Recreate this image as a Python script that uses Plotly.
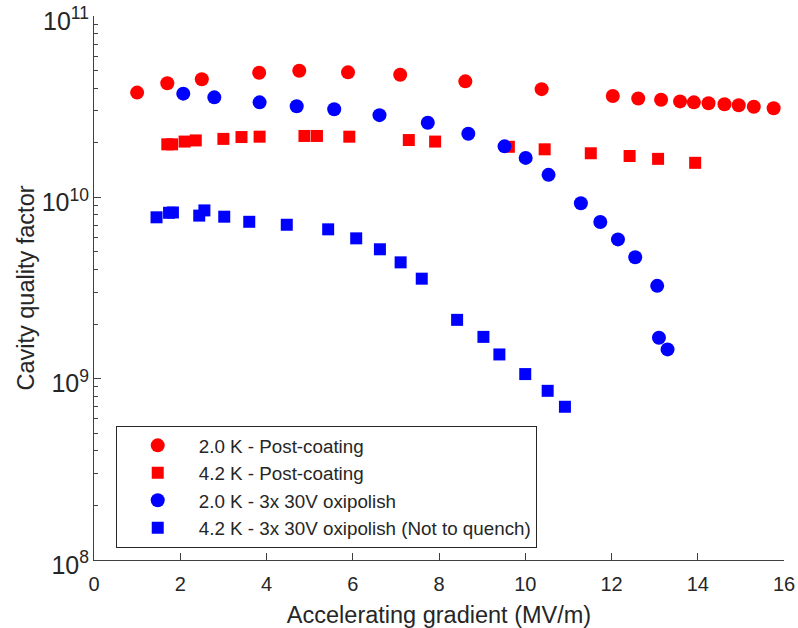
import plotly.graph_objects as go

# 2.0 K - Post-coating
x_20_post = [1.00, 1.70, 2.50, 3.83, 4.76, 5.89, 7.10, 8.61, 10.38, 12.03, 12.62, 13.15,
             13.59, 13.91, 14.25, 14.62, 14.95, 15.30, 15.76]
q_20_post = [3.78e10, 4.26e10, 4.48e10, 4.86e10, 4.99e10, 4.89e10, 4.74e10, 4.36e10, 3.95e10,
             3.62e10, 3.51e10, 3.45e10, 3.38e10, 3.34e10, 3.30e10, 3.26e10, 3.22e10, 3.16e10, 3.10e10]

# 4.2 K - Post-coating
x_42_post = [1.70, 1.81, 2.10, 2.36, 3.00, 3.42, 3.84, 4.88, 5.17, 5.92, 7.30, 7.91,
             9.62, 10.45, 11.52, 12.42, 13.08, 13.94]
q_42_post = [1.96e10, 1.96e10, 2.03e10, 2.06e10, 2.10e10, 2.15e10, 2.16e10, 2.18e10, 2.18e10,
             2.16e10, 2.07e10, 2.03e10, 1.90e10, 1.84e10, 1.75e10, 1.69e10, 1.63e10, 1.55e10]

# 2.0 K - 3x 30V oxipolish
x_20_oxi = [2.07, 2.79, 3.84, 4.70, 5.57, 6.62, 7.74, 8.68, 9.52, 10.01, 10.54, 11.29,
            11.74, 12.15, 12.55, 13.06, 13.10, 13.30]
q_20_oxi = [3.73e10, 3.56e10, 3.34e10, 3.18e10, 3.06e10, 2.84e10, 2.58e10, 2.24e10, 1.91e10,
            1.65e10, 1.33e10, 9.27e9, 7.31e9, 5.86e9, 4.67e9, 3.25e9, 1.68e9, 1.45e9]

# 4.2 K - 3x 30V oxipolish (Not to quench)
x_42_oxi = [1.45, 1.74, 1.83, 2.44, 2.56, 3.02, 3.60, 4.47, 5.43, 6.08, 6.63, 7.11, 7.60,
            8.42, 9.03, 9.40, 10.00, 10.52, 10.92]
q_42_oxi = [7.76e9, 8.22e9, 8.25e9, 7.93e9, 8.47e9, 7.82e9, 7.33e9, 7.06e9, 6.66e9, 5.94e9,
            5.17e9, 4.38e9, 3.56e9, 2.11e9, 1.70e9, 1.36e9, 1.06e9, 8.57e8, 7.00e8]

x_ticks = [0, 2, 4, 6, 8, 10, 12, 14, 16]

FONT = "Liberation Sans, Arial, sans-serif"
AX = "#404040"
TXT = "#262626"

fig = go.Figure()
fig.add_trace(go.Scatter(x=x_20_post, y=q_20_post, mode="markers", name="2.0 K - Post-coating",
                         marker=dict(symbol="circle", size=14, color="#ff0000")))
fig.add_trace(go.Scatter(x=x_42_post, y=q_42_post, mode="markers", name="4.2 K - Post-coating",
                         marker=dict(symbol="square", size=12, color="#ff0000")))
fig.add_trace(go.Scatter(x=x_20_oxi, y=q_20_oxi, mode="markers", name="2.0 K - 3x 30V oxipolish",
                         marker=dict(symbol="circle", size=14, color="#0000ff")))
fig.add_trace(go.Scatter(x=x_42_oxi, y=q_42_oxi, mode="markers",
                         name="4.2 K - 3x 30V oxipolish (Not to quench)",
                         marker=dict(symbol="square", size=12, color="#0000ff")))

fig.update_layout(
    width=798, height=628, autosize=False,
    paper_bgcolor="white", plot_bgcolor="white",
    margin=dict(l=94, r=14, t=16, b=68),
    font=dict(family=FONT, size=19, color=TXT),
    showlegend=True,
    legend=dict(x=0.0315, y=0.247, xanchor="left", yanchor="top",
                bordercolor=TXT, borderwidth=1, bgcolor="white",
                font=dict(family=FONT, size=18.8, color=TXT),
                itemwidth=72, tracegroupgap=0),
    xaxis=dict(range=[0, 16], tickvals=x_ticks, ticks="inside", ticklen=7, tickcolor=AX,
               showline=True, linecolor=AX, linewidth=1, showgrid=False, zeroline=False,
               automargin=False, ticklabeloverflow="allow", ticklabelstandoff=6,
               title=dict(text="Accelerating gradient (MV/m)", font=dict(size=23.5), standoff=12),
               tickfont=dict(size=20)),
    yaxis=dict(type="log", range=[8, 11], dtick=1, exponentformat="power",
               ticks="inside", ticklen=7, tickcolor=AX, ticklabelshift=5,
               minor=dict(ticks="inside", ticklen=4, tickcolor=AX, dtick="D1", showgrid=False),
               showline=True, linecolor=AX, linewidth=1, showgrid=False, zeroline=False,
               automargin=False, ticklabeloverflow="allow",
               title=dict(text="Cavity quality factor", font=dict(size=23.5), standoff=0),
               tickfont=dict(size=20)),
)

fig.write_html("out.html", config={"displayModeBar": False},
               post_script="document.body.style.margin='0px';document.body.style.overflow='hidden';")
